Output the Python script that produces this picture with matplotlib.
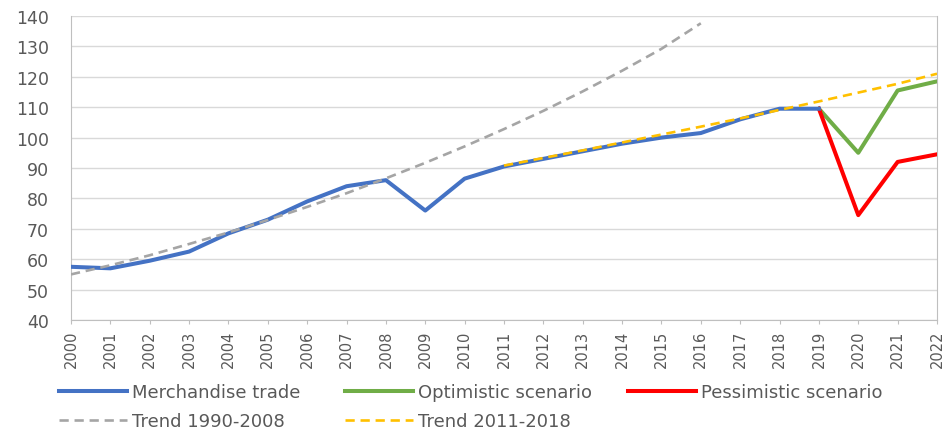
import matplotlib.pyplot as plt

# Data
years = list(range(2000, 2023))
merch_years = list(range(2000, 2020))
merch = [57.5, 57.0, 59.5, 62.5, 68.5, 73.0, 79.0, 84.0, 86.0, 76.0,
         86.5, 90.5, 93.0, 95.5, 98.0, 100.0, 101.5, 106.0, 109.5, 109.5]
scen_years = [2019, 2020, 2021, 2022]
optimistic = [109.5, 95.0, 115.5, 118.5]
pessimistic = [109.5, 74.5, 92.0, 94.5]
trend1_years = list(range(2000, 2017))
trend1 = [55.0, 58.0, 61.3, 65.0, 68.8, 72.9, 77.2, 81.7, 86.6, 91.7,
          97.1, 102.8, 108.8, 115.2, 122.0, 129.2, 137.6]
trend2_years = list(range(2011, 2023))
trend2 = [90.8, 93.3, 95.8, 98.4, 101.0, 103.6, 106.3, 109.1, 111.9,
          114.8, 117.7, 121.0]

text_col = '#595959'
grid_col = '#D9D9D9'

W, H = 949, 431
fig = plt.figure(figsize=(W / 100, H / 100), dpi=100)
ax = fig.add_axes([71 / W, 1 - 321 / H, 866 / W, 304 / H])

l_m, = ax.plot(merch_years, merch, color='#4472C4', lw=2.9, zorder=4)
l_o, = ax.plot(scen_years, optimistic, color='#70AD47', lw=2.9, zorder=3)
l_p, = ax.plot(scen_years, pessimistic, color='#FF0000', lw=2.9, zorder=3)
l_t1, = ax.plot(trend1_years, trend1, color='#A5A5A5', lw=1.9,
                dashes=(3.5, 2.2), zorder=5)
l_t2, = ax.plot(trend2_years, trend2, color='#FFC000', lw=1.9,
                dashes=(3.5, 2.2), zorder=5)

ax.set_xlim(2000, 2022)
ax.set_ylim(40, 140)
ax.set_yticks(range(40, 141, 10))
ax.set_xticks(years)
ax.set_xticklabels([str(y) for y in years], rotation=90)
ax.grid(axis='y', color=grid_col, lw=1)
ax.set_axisbelow(True)

for side in ['left', 'right', 'bottom']:
    ax.spines[side].set_color('#BFBFBF')
ax.spines['top'].set_visible(False)
ax.tick_params(axis='y', length=0, labelsize=12.5, colors=text_col, pad=16)
ax.tick_params(axis='x', length=3, color='#BFBFBF', labelsize=10.5,
               colors=text_col, pad=4)

# legend entries placed one by one (handle start x, row center y) in pixels
entries = [(l_m, 'Merchandise trade', 59, 393),
           (l_o, 'Optimistic scenario', 345, 393),
           (l_p, 'Pessimistic scenario', 628, 393),
           (l_t1, 'Trend 1990-2008', 59, 422),
           (l_t2, 'Trend 2011-2018', 345, 422)]
fs = 13
for h, lab, px, py in entries:
    leg = fig.legend([h], [lab], loc='center left',
                     bbox_to_anchor=(px / W, 1 - py / H), frameon=False,
                     borderpad=0, borderaxespad=0,
                     handlelength=68 / (fs * 100 / 72), handletextpad=0.3,
                     prop={'family': 'DejaVu Sans', 'size': fs})
    for t in leg.get_texts():
        t.set_color(text_col)

fig.savefig('out.png', dpi=100)
